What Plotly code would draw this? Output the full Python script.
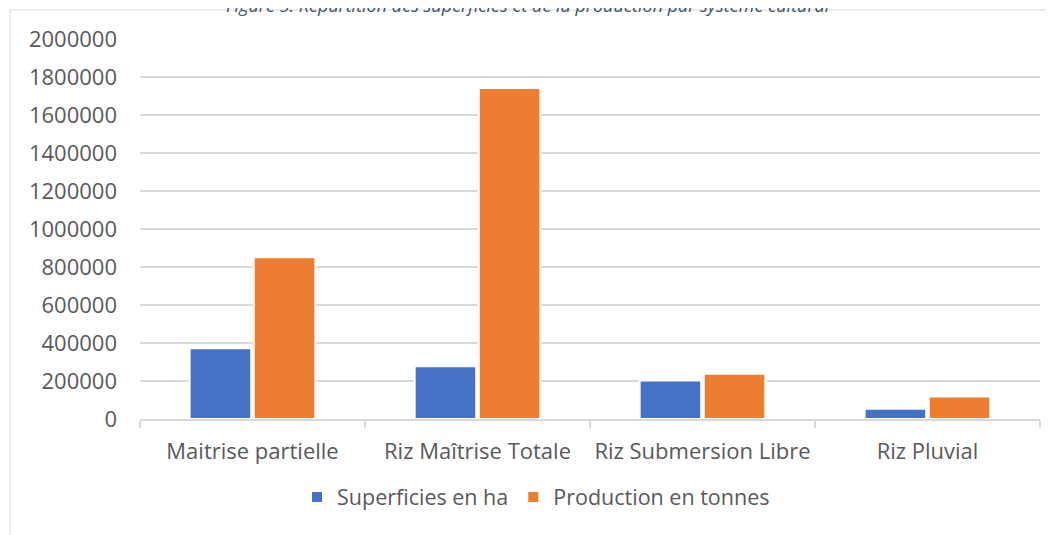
import plotly.graph_objs as go

categories = ['Maitrise partielle', 'Riz Maîtrise Totale', 'Riz Submersion Libre', 'Riz Pluvial']
superficies = [372000, 278000, 202000, 54000]
production = [851000, 1742000, 238000, 118000]
y_ticks = [0, 200000, 400000, 600000, 800000, 1000000, 1200000, 1400000, 1600000, 1800000, 2000000]

fig = go.Figure()

fig.add_trace(go.Bar(
    x=categories,
    y=superficies,
    name='Superficies en ha',
    marker=dict(color='#4472C4', line=dict(color='white', width=2)),
))

fig.add_trace(go.Bar(
    x=categories,
    y=production,
    name='Production en tonnes',
    marker=dict(color='#ED7D31', line=dict(color='white', width=2)),
))

# titre coupé en haut de l'image
fig.add_annotation(
    text='Figure 5: Répartition des superficies et de la production par système cultural',
    xref='paper', yref='paper', x=0.431, y=1.052,
    xanchor='center', yanchor='bottom', showarrow=False,
    font=dict(family='Open Sans', size=18, color='#44546A', style='italic'),
)

# bordure de la zone du graphique
fig.add_shape(type='line', xref='paper', yref='paper',
              x0=-0.1444, x1=-0.1444, y0=1.0763, y1=-0.35,
              line=dict(color='#D9D9D9', width=1))
fig.add_shape(type='line', xref='paper', yref='paper',
              x0=-0.1444, x1=1.05, y0=1.0763, y1=1.0763,
              line=dict(color='#D9D9D9', width=1))

fig.update_layout(
    width=1054,
    height=535,
    margin=dict(l=132, r=22, t=31, b=124),  # la page a une marge de 8px
    plot_bgcolor='white',
    paper_bgcolor='white',
    font=dict(family='Open Sans', color='#595959', size=16),
    barmode='group',
    bargap=0.43,
    bargroupgap=0.04,
    showlegend=True,
    legend=dict(orientation='h', x=0.44, y=-0.205, xanchor='center', yanchor='middle',
                font=dict(size=21.5, color='#595959'), itemwidth=30),
    xaxis=dict(showgrid=False, showline=True, linecolor='#D9D9D9', linewidth=1.5,
               ticks='outside', tickcolor='#D9D9D9', ticklen=7, tickwidth=1.5,
               tickson='boundaries', ticklabelstandoff=12, tickangle=0, automargin=False,
               tickfont=dict(size=22, color='#595959')),
    yaxis=dict(range=[0, 2000000], tickvals=y_ticks, tickformat='d',
               showgrid=True, gridcolor='#D9D9D9', gridwidth=1.5, automargin=False,
               zeroline=False, showline=False, ticklabelstandoff=22,
               tickfont=dict(size=22, color='#595959')),
)

fig.write_html('out.html')
